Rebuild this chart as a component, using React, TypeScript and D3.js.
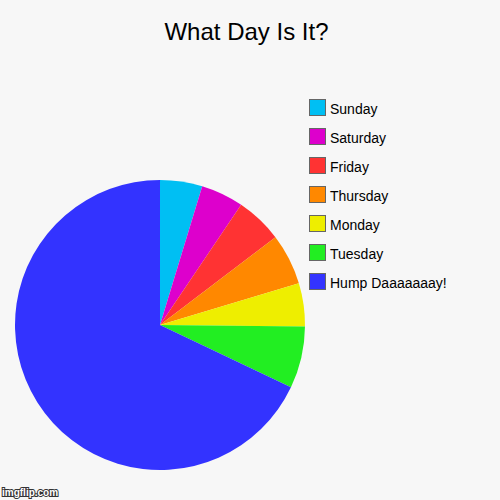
import { useEffect, useRef } from 'react';
import * as d3 from 'd3';

const days = ['Sunday', 'Saturday', 'Friday', 'Thursday', 'Monday', 'Tuesday', 'Hump Daaaaaaay!'];
const values = [4.7, 4.75, 5.2, 5.7, 4.8, 6.9, 67.9];
const colors = ['#00bff3', '#dd00cc', '#ff3333', '#ff8800', '#eeee00', '#22ee22', '#3333ff'];

const App = () => {
  const svgRef = useRef(null);

  useEffect(() => {
    const svg = d3.select(svgRef.current);
    svg.selectAll('*').remove();

    const width = 500;
    const height = 500;
    const cx = 160;
    const cy = 325;
    const radius = 145;

    svg.append('rect').attr('width', width).attr('height', height).attr('fill', '#f7f7f7');

    // заголовок
    svg
      .append('text')
      .attr('x', 246.5)
      .attr('y', 40)
      .attr('text-anchor', 'middle')
      .style('font-family', 'Liberation Sans, Arial, sans-serif')
      .style('font-size', '24px')
      .attr('fill', '#000')
      .text('What Day Is It?');

    const pie = d3
      .pie<number>()
      .sort(null)
      .value((d) => d);
    const arc = d3.arc<d3.PieArcDatum<number>>().innerRadius(0).outerRadius(radius);

    svg
      .append('g')
      .attr('transform', `translate(${cx},${cy})`)
      .selectAll('path')
      .data(pie(values))
      .enter()
      .append('path')
      .attr('d', arc)
      .attr('fill', (_, i) => colors[i]);

    // легенда
    const legend = svg.append('g').attr('transform', 'translate(309,99)');
    const rows = legend
      .selectAll('g')
      .data(days)
      .enter()
      .append('g')
      .attr('transform', (_, i) => `translate(0,${i * 29})`);
    rows
      .append('rect')
      .attr('x', 0.5)
      .attr('y', 0.5)
      .attr('width', 16)
      .attr('height', 16)
      .attr('fill', (_, i) => colors[i])
      .attr('stroke', '#666')
      .attr('stroke-width', 1);
    rows
      .append('text')
      .attr('x', 21)
      .attr('y', 14.5)
      .style('font-family', 'Liberation Sans, Arial, sans-serif')
      .style('font-size', '14px')
      .attr('fill', '#000')
      .text((d) => d);

    svg
      .append('text')
      .attr('x', 2)
      .attr('y', 496)
      .style('font-family', 'Liberation Sans, Arial, sans-serif')
      .style('font-size', '10px')
      .style('font-weight', 'bold')
      .attr('fill', '#fff')
      .attr('stroke', '#333')
      .attr('stroke-width', 2)
      .attr('paint-order', 'stroke')
      .text('imgflip.com');
  }, []);

  return (
    <svg
      ref={svgRef}
      width={500}
      height={500}
      style={{ position: 'absolute', left: 0, top: 0, display: 'block' }}
    ></svg>
  );
};

export default App;
